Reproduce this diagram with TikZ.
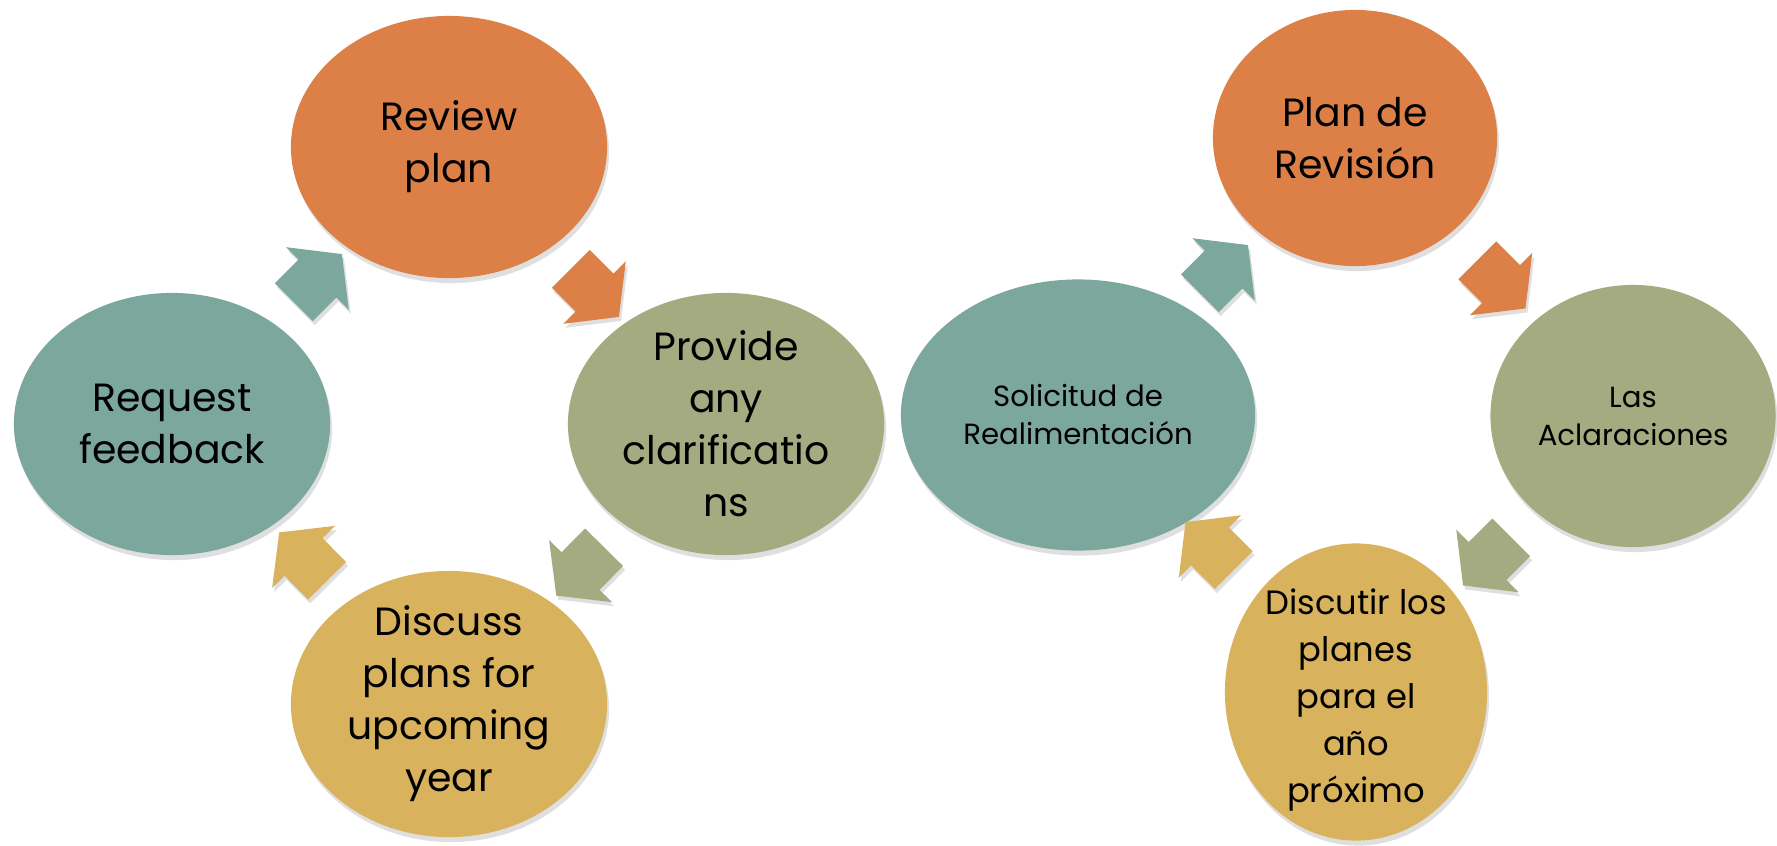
\documentclass[tikz,border=0pt]{standalone}
\usepackage{fontspec}
\setmainfont{Poppins}
\tikzset{>=latex}
\usetikzlibrary{shapes.geometric,shapes.arrows,shadows}

\definecolor{medOrange}{HTML}{DD8047}
\definecolor{medOlive}{HTML}{A5AB81}
\definecolor{medGold}{HTML}{D8B25C}
\definecolor{medTeal}{HTML}{7BA79D}

\tikzstyle{bubble} = [ellipse, inner sep=0pt, drop shadow={shadow xshift=0.2mm, shadow yshift=-0.5mm, opacity=0.25}]
\tikzstyle{lbl} = [font=\fontsize{11.2}{14.8}\selectfont, align=center]
\tikzstyle{lblmid} = [font=\fontsize{9.6}{13.4}\selectfont, align=center]
\tikzstyle{lblsmall} = [font=\fontsize{8.3}{10.8}\selectfont, align=center]
\tikzstyle{turn} = [single arrow, inner xsep=0pt, inner ysep=0.26cm, minimum height=0.68cm, minimum width=0.87cm, single arrow head extend=0.175cm, single arrow tip angle=104, midway, sloped, allow upside down, drop shadow={shadow xshift=0.2mm, shadow yshift=-0.4mm, opacity=0.25}]

\begin{document}
\begin{tikzpicture}[x=0.01cm,y=-0.01cm]
\useasboundingbox (0,0) rectangle (1777,845);

% English cycle
\node[bubble, fill=medOrange, minimum width=3.16cm, minimum height=2.62cm, label={[lbl]center:Review\\plan}] (review) at (449,147) {};
\node[bubble, fill=medTeal, minimum width=3.16cm, minimum height=2.62cm, label={[lbl]center:Request\\feedback}] (request) at (172,424) {};
\node[bubble, fill=medOlive, minimum width=3.16cm, minimum height=2.62cm, label={[lbl]center:Provide\\any\\clarificatio\\ns}] (provide) at (726,424) {};
\node[bubble, fill=medGold, minimum width=3.16cm, minimum height=2.66cm, label={[lbl]center:Discuss\\plans for\\upcoming\\year}] (discuss) at (449,704) {};

% Spanish cycle
\node[bubble, fill=medOrange, minimum width=2.84cm, minimum height=2.56cm, label={[lbl]center:Plan de\\Revisión}] (plan) at (1355,138) {};
\node[bubble, fill=medTeal, minimum width=3.54cm, minimum height=2.71cm, label={[lblsmall]center:Solicitud de\\Realimentación}] (solic) at (1078,415) {};
\node[bubble, fill=medOlive, minimum width=2.85cm, minimum height=2.62cm, label={[lblsmall]center:Las\\Aclaraciones}] (aclar) at (1633,416) {};
\node[bubble, fill=medGold, minimum width=2.62cm, minimum height=2.97cm, label={[lblmid, yshift=-0.08cm]center:Discutir los\\planes\\para el\\año\\próximo}] (discut) at (1356,692) {};

% Cycle arrows
\path (request.center) -- (review.center) node[turn, fill=medTeal] (a1) {};
\path (review.center) -- (provide.center) node[turn, fill=medOrange] (a2) {};
\path (provide.center) -- (discuss.center) node[turn, fill=medOlive] (a3) {};
\path (discuss.center) -- (request.center) node[turn, fill=medGold] (a4) {};

\path (solic.center) -- (plan.center) node[turn, fill=medTeal] (b1) {};
\path (plan.center) -- (aclar.center) node[turn, fill=medOrange] (b2) {};
\path (aclar.center) -- (discut.center) node[turn, fill=medOlive] (b3) {};
\path (discut.center) -- (solic.center) node[turn, fill=medGold] (b4) {};

\end{tikzpicture}
\end{document}
